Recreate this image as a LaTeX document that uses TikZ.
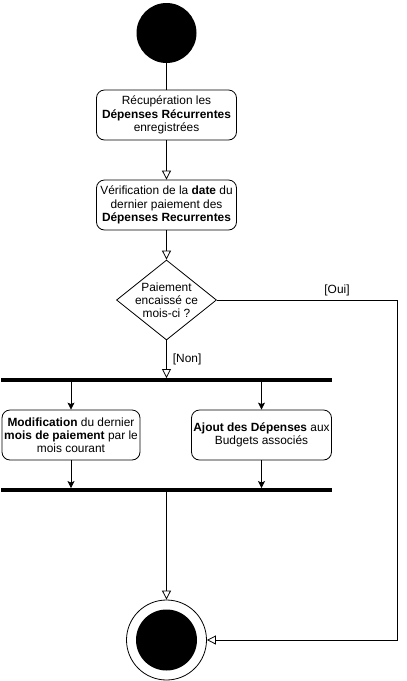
\documentclass[tikz,border=0pt]{standalone}
\usepackage{fontspec}
\setmainfont{Liberation Sans}
\usetikzlibrary{arrows.meta,shapes.geometric}
\begin{document}
\begin{tikzpicture}[x=1pt,y=-1pt,
  every node/.style={font=\fontsize{11.9}{13.2}\selectfont},
  act/.style={draw, rounded corners=8pt, line width=0.8pt, minimum width=140pt, minimum height=50pt, inner sep=0pt, align=center},
  bar/.style={fill=black, draw=none, minimum width=331pt, minimum height=3.5pt, inner sep=0pt},
  oa/.style={draw, line width=0.8pt, -{Triangle[open, length=9pt, width=9pt]}},
  fa/.style={draw, line width=0.8pt, -{Stealth[length=7pt, width=7pt, inset=1.5pt]}},
  ln/.style={draw, line width=0.8pt}
]
\useasboundingbox (0,0) rectangle (407,681);
\node[circle, fill=black, minimum size=60pt, inner sep=0pt] (start) at (166.5,33) {};
\node[act] (b1) at (166.5,115) {Récupération les\\\textbf{Dépenses Récurrentes}\\enregistrées};
\node[act] (b2) at (166.5,205) {Vérification de la \textbf{date} du\\dernier paiement des\\\textbf{Dépenses Recurrentes}};
\node[diamond, draw, line width=0.8pt, minimum width=100pt, minimum height=80pt, inner sep=0pt, aspect=1.25] (d) at (166.5,300) {};
\node[align=center, inner sep=0pt] (dtext) at (d.center) {Paiement\\encaissé ce\\mois-ci ?};
\node[bar] (bar1) at (166.5,380) {};
\node[act, minimum width=138pt] (b3) at (71,435) {\textbf{Modification} du dernier\\\textbf{mois de paiement} par le\\mois courant};
\node[act] (b4) at (261.5,435) {\textbf{Ajout des Dépenses} aux\\Budgets associés};
\node[bar] (bar2) at (166.5,490) {};
\node[circle, draw, line width=0.8pt, minimum size=80pt, inner sep=0pt] (fin) at (166.5,640) {};
\node[circle, fill=black, minimum size=61pt, inner sep=0pt] (fininner) at (fin.center) {};
\coordinate (cR) at (397,300);

\draw[ln] (start) -- (b1);
\draw[oa] (b1) -- (b2);
\draw[oa] (b2) -- (d);
\draw[oa] (d.south) -- node[right, inner sep=0pt, xshift=6pt] (non) {[Non]} (d.south |- bar1.north);
\draw[oa] (d.east) -- (cR) |- (fin.east);
\node[inner sep=0pt] (oui) at (337,290) {[Oui]};
\draw[fa] (b3.north |- bar1.south) -- (b3.north);
\draw[fa] (b4.north |- bar1.south) -- (b4.north);
\draw[fa] (b3.south) -- (b3.south |- bar2.north);
\draw[fa] (b4.south) -- (b4.south |- bar2.north);
\draw[oa] (bar2.south) -- (fin.north);
\end{tikzpicture}
\end{document}
